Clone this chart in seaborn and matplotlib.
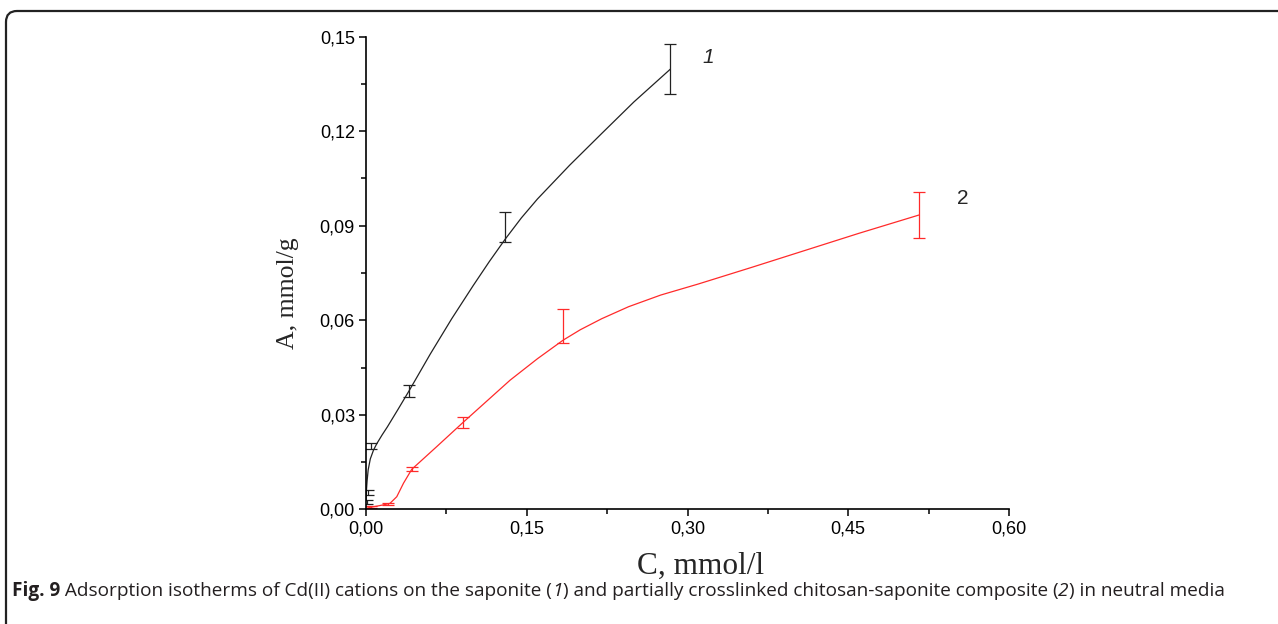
import numpy as np
import pandas as pd
import seaborn as sns
import matplotlib.pyplot as plt
from matplotlib.patches import FancyBboxPatch
from matplotlib.ticker import MultipleLocator, FuncFormatter

# Curve 1 - saponite (fitted line)
c1_x = [0.0, 0.0005, 0.001, 0.002, 0.004, 0.007, 0.010, 0.015, 0.020, 0.030, 0.040,
        0.060, 0.080, 0.100, 0.115, 0.130, 0.145, 0.160, 0.190, 0.220, 0.250, 0.284]
c1_y = [0.003, 0.0065, 0.009, 0.0125, 0.016, 0.0188, 0.0208, 0.0236, 0.0262, 0.0318, 0.0375,
        0.0493, 0.0605, 0.0710, 0.0786, 0.0858, 0.0925, 0.0985, 0.1092, 0.1193, 0.1293, 0.1397]
# Curve 1 - measured points with error bars
p1_x = [0.001, 0.002, 0.0047, 0.040, 0.130, 0.284]
p1_y = [0.0023, 0.0053, 0.0201, 0.0375, 0.0896, 0.1398]
p1_err = [0.0006, 0.0008, 0.0010, 0.0019, 0.0048, 0.0080]

# Curve 2 - chitosan-saponite composite
c2_x = [0.0, 0.005, 0.010, 0.016, 0.0224, 0.0287, 0.035, 0.0427, 0.055, 0.066, 0.0903,
        0.1345, 0.160, 0.184, 0.200, 0.220, 0.245, 0.275, 0.310, 0.360, 0.410, 0.460, 0.516]
c2_y = [0.0003, 0.0007, 0.0010, 0.0014, 0.0019, 0.0040, 0.0083, 0.0127, 0.0165, 0.0199, 0.0275,
        0.0410, 0.0478, 0.0537, 0.0570, 0.0605, 0.0643, 0.0680, 0.0715, 0.0768, 0.0822, 0.0876, 0.0934]
p2_x = [0.005, 0.0205, 0.0427, 0.0903, 0.184, 0.516]
p2_y = [0.0008, 0.0017, 0.0127, 0.0275, 0.0582, 0.0934]
p2_err = [0.0003, 0.0002, 0.0007, 0.0017, 0.0054, 0.0074]

x_ticks = [0.0, 0.15, 0.30, 0.45, 0.60]
y_ticks = [0.0, 0.03, 0.06, 0.09, 0.12, 0.15]

curves = pd.concat([
    pd.DataFrame({"C": c1_x, "A": c1_y, "serie": "1"}),
    pd.DataFrame({"C": c2_x, "A": c2_y, "serie": "2"}),
])
colores = {"1": "#222222", "2": "#ff2a2a"}

sns.set_theme(style="ticks")
plt.rcParams["font.family"] = ["Liberation Sans", "DejaVu Sans"]

fig = plt.figure(figsize=(12.78, 6.24), dpi=100)
ax = fig.add_axes([0.2864, 0.1838, 0.7895 - 0.2864, 0.9412 - 0.1838])

sns.lineplot(data=curves, x="C", y="A", hue="serie", palette=colores,
             estimator=None, sort=False, lw=0.9, legend=False, ax=ax)

ax.errorbar(p1_x, p1_y, yerr=p1_err, fmt="none", ecolor=colores["1"],
            elinewidth=0.9, capsize=4.5, capthick=0.9)
ax.errorbar(p2_x, p2_y, yerr=p2_err, fmt="none", ecolor=colores["2"],
            elinewidth=0.9, capsize=4.5, capthick=0.9)

ax.set_xlim(0, 0.6)
ax.set_ylim(0, 0.15)
ax.set_xticks(x_ticks)
ax.set_yticks(y_ticks)
ax.xaxis.set_minor_locator(MultipleLocator(0.075))
ax.yaxis.set_minor_locator(MultipleLocator(0.015))
fmt = FuncFormatter(lambda v, p: f"{v:.2f}".replace(".", ","))
ax.xaxis.set_major_formatter(fmt)
ax.yaxis.set_major_formatter(fmt)
ax.tick_params(which="major", length=5, width=1.1, labelsize=13, pad=3,
               color="black", labelcolor="black")
ax.tick_params(which="minor", length=3.5, width=1.1, color="black")
sns.despine(ax=ax)
for s in ["left", "bottom"]:
    ax.spines[s].set_linewidth(1.2)
    ax.spines[s].set_color("black")

ax.set_xlabel("C, mmol/l", family="Liberation Serif", fontsize=22.5)
ax.set_ylabel("A, mmol/g", family="Liberation Serif", fontsize=18.5)
ax.xaxis.set_label_coords(0.521, -0.089)
ax.yaxis.set_label_coords(-0.104, 0.458)

# numbers of the curves
ax.text(0.319, 0.1435, "1", fontsize=15, style="italic", ha="center", va="center")
ax.text(0.557, 0.0985, "2", fontsize=15, ha="center", va="center")

# frame of the figure
frame = FancyBboxPatch((6, -60), 1500, 673, boxstyle="round,pad=0,rounding_size=11",
                       transform=None, fill=False, lw=1.6, ec="#222222", clip_on=False)
fig.patches.append(frame)

# caption with bold / italic parts
partes = [
    ("Fig. 9", "bold", "normal"),
    (" Adsorption isotherms of Cd(II) cations on the saponite (", "normal", "normal"),
    ("1", "normal", "italic"),
    (") and partially crosslinked chitosan-saponite composite (", "normal", "normal"),
    ("2", "normal", "italic"),
    (") in neutral media", "normal", "normal"),
]
fig.canvas.draw()
renderer = fig.canvas.get_renderer()
x_px = 12
for txt, peso, estilo in partes:
    t = fig.text(x_px / 1278, 1 - 591 / 624, txt, fontsize=13.7, weight=peso, style=estilo,
                 family=["Open Sans", "DejaVu Sans"], color="#231f20", va="center", ha="left")
    x_px += t.get_window_extent(renderer).width

plt.savefig("out.png", dpi=100)
